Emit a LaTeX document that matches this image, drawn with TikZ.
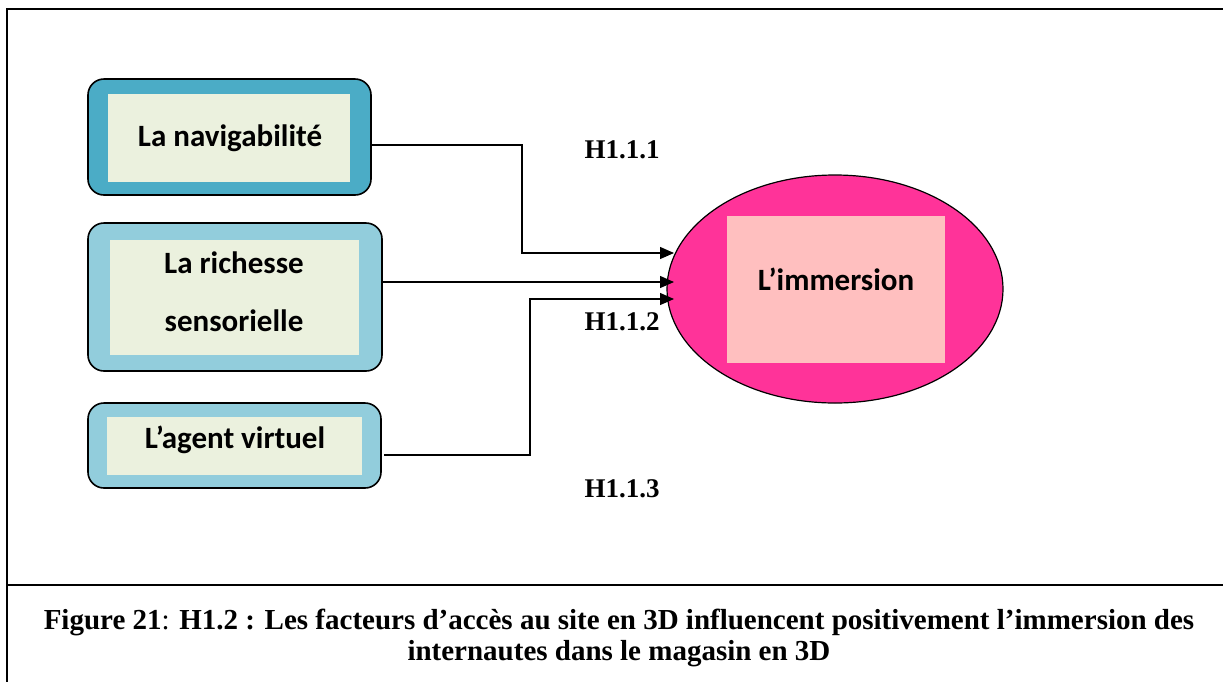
\documentclass[tikz,border=0pt]{standalone}
\usepackage{fontspec}
\setmainfont{Liberation Serif}
\newfontfamily\calibrifont{Carlito}
\usetikzlibrary{arrows.meta,shapes.geometric}
\definecolor{tealdark}{HTML}{4BACC6}
\definecolor{teallight}{HTML}{92CDDC}
\definecolor{innergreen}{HTML}{EBF1DE}
\definecolor{magentafill}{HTML}{FF3399}
\definecolor{pinkfill}{HTML}{FFBFBF}
\begin{document}
\begin{tikzpicture}[x=1pt,y=-1pt,
  outerbox/.style={draw=black,line width=1.6pt,rounded corners=16pt},
  innerbox/.style={draw=none,fill=innergreen},
  boxtext/.style={font=\calibrifont\bfseries\fontsize{31}{36}\selectfont,align=center,text=black},
  conn/.style={draw=black,line width=1.3pt,-{Triangle[length=14pt,width=12pt]}},
  hlabel/.style={font=\bfseries\fontsize{27}{30}\selectfont,anchor=center},
  frameline/.style={line width=2.2pt}]
\useasboundingbox (0,0) rectangle (1223,681);
\fill[white] (0,0) rectangle (1223,681);
% frame
\draw[frameline] (7,690) -- (7,9) -- (1230,9);
\draw[frameline] (7,585) -- (1230,585);
% box 1
\draw[outerbox,fill=tealdark] (88,79) rectangle (371,195);
\fill[innerbox] (108,94) rectangle (350,182);
\node[boxtext] (nav) at (230,138) {La navigabilité};
\coordinate (nR) at (371,145);
% box 2
\draw[outerbox,fill=teallight] (88,223) rectangle (382,371);
\fill[innerbox] (110,240) rectangle (359,355);
\node[boxtext,font=\calibrifont\bfseries\fontsize{31}{58}\selectfont] (rich) at (234,292) {La richesse\\sensorielle};
\coordinate (rR) at (382,282);
% box 3
\draw[outerbox,fill=teallight] (88,403) rectangle (381,488);
\fill[innerbox] (107,417) rectangle (362,475);
\node[boxtext] (agent) at (235,440) {L’agent virtuel};
\coordinate (aR) at (384,455);
% ellipse
\node[ellipse,draw=black,line width=1.2pt,fill=magentafill,minimum width=336pt,minimum height=228pt,inner sep=0pt] (ell) at (835,289) {};
\fill[pinkfill] (727,216) rectangle (945,363);
\node[boxtext] (imm) at (836,279) {L’immersion};
\coordinate (t1) at (674,253);
\coordinate (t2) at (674,282);
\coordinate (t3) at (674,299);
% connectors
\draw[conn] (nR) -| (522,253) -- (t1);
\draw[conn] (rR) -- (t2);
\draw[conn] (aR) -| (530,299) -- (t3);
% labels
\node[hlabel] (h1) at (622,150) {H1.1.1};
\node[hlabel] (h2) at (622,322) {H1.1.2};
\node[hlabel] (h3) at (622,489) {H1.1.3};
% caption
\node[font=\fontsize{29}{31}\selectfont,align=center] (cap) at (619,638) {\textbf{Figure 21}: \textbf{H1.2 : Les facteurs d’accès au site en 3D influencent positivement l’immersion des}\\\textbf{internautes dans le magasin en 3D}};
\end{tikzpicture}
\end{document}
